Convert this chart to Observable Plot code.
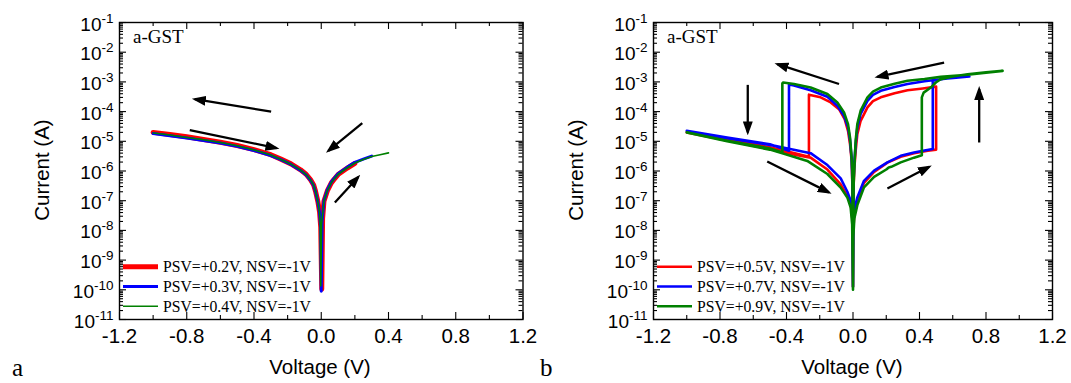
<!DOCTYPE html>
<html><head><meta charset="utf-8">
<script src="https://cdn.jsdelivr.net/npm/d3@7"></script>
<script src="https://cdn.jsdelivr.net/npm/@observablehq/plot@0.6"></script>
<style>
body{margin:0;background:#fff;}
#wrap{position:relative;width:1071px;height:383px;overflow:hidden;background:#fff;}
#wrap > svg{position:absolute;top:0;overflow:visible;}
</style></head><body><div id="wrap"></div>
<script>
// ---------- axis structure ----------
const xTicks = [-1.2, -0.8, -0.4, 0.0, 0.4, 0.8, 1.2];
const xTickLabels = ["-1.2", "-0.8", "-0.4", "0.0", "0.4", "0.8", "1.2"];
const xMinorTicks = [-1.0, -0.6, -0.2, 0.2, 0.6, 1.0];
const yExponents = [-11, -10, -9, -8, -7, -6, -5, -4, -3, -2, -1];
const yTickLabels = ["-11", "-10", "-9", "-8", "-7", "-6", "-5", "-4", "-3", "-2", "-1"];

// ---------- panel a : [voltage (V), log10 current (A)] ----------
const aPSV02 = [[-1.00,-4.70],[-0.90,-4.77],[-0.80,-4.85],[-0.70,-4.94],[-0.60,-5.03],[-0.50,-5.14],[-0.40,-5.28],[-0.30,-5.45],[-0.24,-5.60],[-0.18,-5.76],[-0.123,-5.96],[-0.09,-6.11],[-0.064,-6.29],[-0.045,-6.47],[-0.034,-6.68],[-0.020,-7.03],[-0.010,-7.38],[-0.003,-7.9],[0.003,-9.98],[0.008,-7.6],[0.016,-7.02],[0.036,-6.67],[0.060,-6.40],[0.075,-6.29],[0.100,-6.12],[0.155,-5.90],[0.200,-5.74]];
const aPSV03 = [[-1.00,-4.74],[-0.90,-4.81],[-0.80,-4.89],[-0.70,-4.97],[-0.60,-5.06],[-0.50,-5.17],[-0.40,-5.31],[-0.30,-5.48],[-0.24,-5.62],[-0.18,-5.78],[-0.123,-5.98],[-0.09,-6.13],[-0.064,-6.31],[-0.045,-6.49],[-0.034,-6.70],[-0.020,-7.05],[-0.010,-7.40],[-0.003,-7.95],[0.000,-10.05],[0.005,-7.7],[0.016,-7.0],[0.036,-6.64],[0.060,-6.37],[0.075,-6.26],[0.100,-6.09],[0.155,-5.87],[0.200,-5.71],[0.250,-5.60],[0.300,-5.50]];
const aPSV04 = [[-1.00,-4.72],[-0.90,-4.79],[-0.80,-4.87],[-0.70,-4.95],[-0.60,-5.04],[-0.50,-5.15],[-0.40,-5.29],[-0.30,-5.46],[-0.24,-5.61],[-0.18,-5.77],[-0.123,-5.97],[-0.09,-6.12],[-0.064,-6.30],[-0.045,-6.48],[-0.034,-6.69],[-0.020,-7.04],[-0.010,-7.39],[-0.006,-7.8],[-0.003,-9.87],[0.002,-7.8],[0.016,-7.01],[0.036,-6.66],[0.060,-6.39],[0.075,-6.28],[0.100,-6.11],[0.155,-5.89],[0.200,-5.73],[0.250,-5.61],[0.300,-5.51],[0.350,-5.45],[0.400,-5.39]];
const aArrows = [[-0.298,-4.00,-0.752,-3.58],[-0.782,-4.62,-0.266,-5.23],[0.244,-4.39,0.042,-5.32],[0.081,-7.06,0.220,-6.20]];

// ---------- panel b : full sweep loops [voltage (V), log10 current (A)] ----------
const bPSV05 = [[0,-9.9],[0.002,-8.0],[0.008,-7.4],[0.026,-7.0],[0.066,-6.4],[0.127,-6.03],[0.207,-5.72],[0.287,-5.52],[0.367,-5.40],[0.45,-5.32],[0.50,-5.28],
 [0.50,-3.16],[0.42,-3.22],[0.328,-3.28],[0.25,-3.38],[0.167,-3.52],[0.12,-3.65],[0.087,-3.86],[0.046,-4.31],[0.026,-4.76],[0.016,-5.32],[0.008,-5.9],[0.003,-6.6],
 [0,-9.9],[-0.003,-6.6],[-0.008,-5.66],[-0.018,-5.09],[-0.030,-4.65],[-0.05,-4.25],[-0.084,-3.92],[-0.134,-3.69],[-0.195,-3.52],[-0.265,-3.43],
 [-0.265,-5.52],[-0.35,-5.40],[-0.5,-5.20],[-0.757,-4.93],[-1.0,-4.70],
 [-0.757,-4.97],[-0.5,-5.26],[-0.35,-5.45],[-0.255,-5.55],[-0.154,-5.95],[-0.074,-6.45],[-0.034,-6.85],[-0.014,-7.1],[-0.004,-7.6],[0,-9.9]];
const bPSV07 = [[0,-9.9],[0.002,-7.9],[0.008,-7.3],[0.026,-6.89],[0.066,-6.33],[0.127,-5.99],[0.207,-5.71],[0.287,-5.49],[0.367,-5.38],[0.43,-5.31],[0.48,-5.26],
 [0.48,-2.96],[0.55,-2.89],[0.62,-2.86],[0.70,-2.82],[0.62,-2.85],[0.528,-2.91],[0.43,-2.98],[0.328,-3.07],[0.25,-3.17],[0.167,-3.30],[0.12,-3.44],[0.087,-3.64],[0.046,-4.08],[0.026,-4.54],[0.016,-5.09],[0.008,-5.7],[0.003,-6.4],
 [0,-9.9],[-0.003,-6.5],[-0.008,-5.6],[-0.018,-4.95],[-0.030,-4.53],[-0.054,-4.14],[-0.094,-3.80],[-0.154,-3.50],[-0.255,-3.28],[-0.355,-3.12],[-0.385,-3.09],
 [-0.385,-5.32],[-0.5,-5.10],[-0.757,-4.87],[-1.0,-4.65],
 [-0.757,-4.90],[-0.5,-5.12],[-0.385,-5.25],[-0.255,-5.40],[-0.154,-5.80],[-0.074,-6.25],[-0.034,-6.7],[-0.014,-7.0],[-0.004,-7.5],[0,-9.9]];
const bPSV09 = [[0,-10.0],[0.002,-8.2],[0.008,-7.6],[0.026,-7.15],[0.066,-6.55],[0.127,-6.2],[0.20,-5.95],[0.215,-5.88],[0.23,-5.86],[0.287,-5.71],[0.367,-5.55],[0.414,-5.47],
 [0.414,-3.52],[0.425,-3.36],[0.468,-3.19],[0.498,-3.02],[0.528,-2.91],[0.6,-2.82],[0.689,-2.74],[0.8,-2.68],[0.9,-2.63],
 [0.8,-2.69],[0.689,-2.76],[0.528,-2.83],[0.43,-2.90],[0.328,-2.96],[0.25,-3.06],[0.167,-3.19],[0.12,-3.33],[0.087,-3.52],[0.046,-3.97],[0.026,-4.42],[0.016,-4.98],[0.010,-5.66],[0.004,-6.4],
 [0,-10.0],[-0.004,-5.99],[-0.010,-5.43],[-0.018,-4.87],[-0.030,-4.42],[-0.054,-4.03],[-0.094,-3.69],[-0.154,-3.41],[-0.255,-3.19],[-0.355,-3.07],[-0.42,-3.02],[-0.425,-3.05],
 [-0.425,-5.38],[-0.5,-5.24],[-0.757,-4.98],[-1.0,-4.70],
 [-0.757,-5.0],[-0.5,-5.28],[-0.425,-5.40],[-0.275,-5.66],[-0.154,-6.10],[-0.074,-6.56],[-0.034,-6.89],[-0.014,-7.23],[-0.005,-7.8],[0,-10.0]];
const bArrows = [[-0.084,-3.07,-0.455,-2.40],[0.548,-2.35,0.147,-2.83],[-0.633,-3.10,-0.633,-4.70],[-0.516,-5.68,-0.145,-6.72],[0.207,-6.59,0.458,-5.86],[0.759,-5.04,0.759,-3.24]];

const legendA = ["PSV=+0.2V, NSV=-1V", "PSV=+0.3V, NSV=-1V", "PSV=+0.4V, NSV=-1V"];
const legendB = ["PSV=+0.5V, NSV=-1V", "PSV=+0.7V, NSV=-1V", "PSV=+0.9V, NSV=-1V"];
const colors = ["#ff0000", "#0000ff", "#008000"];

const NS = "http://www.w3.org/2000/svg";
const H = 383, MT = 22, MB = 64;

function panel({series, widths, arrows, width, marginLeft, marginRight, id}) {
  const innerW = width - marginLeft - marginRight, innerH = H - MT - MB;
  const yMajor = yExponents.map(e => Math.pow(10, e));
  const yMinor = [];
  yExponents.slice(0, -1).forEach(e => { for (let m = 2; m <= 9; m++) yMinor.push(m * Math.pow(10, e)); });
  const tk = {stroke: "black", strokeWidth: 1.1};
  const marks = [
    Plot.tickX(xTicks, {x: d => d, insetTop: innerH - 7, ...tk}),
    Plot.tickX(xTicks, {x: d => d, insetBottom: innerH - 7, ...tk}),
    Plot.tickX(xMinorTicks, {x: d => d, insetTop: innerH - 4, ...tk}),
    Plot.tickX(xMinorTicks, {x: d => d, insetBottom: innerH - 4, ...tk}),
    Plot.tickY(yMajor, {y: d => d, insetRight: innerW - 7, ...tk}),
    Plot.tickY(yMajor, {y: d => d, insetLeft: innerW - 7, ...tk}),
    Plot.tickY(yMinor, {y: d => d, insetRight: innerW - 4, ...tk}),
    Plot.tickY(yMinor, {y: d => d, insetLeft: innerW - 4, ...tk}),
    ...series.map((s, i) => Plot.line(s, {x: d => d[0], y: d => Math.pow(10, d[1]), stroke: colors[i], strokeWidth: widths[i], strokeLinejoin: "round"})),
    Plot.link(arrows, {x1: d => d[0], y1: d => Math.pow(10, d[1]), x2: d => d[2], y2: d => Math.pow(10, d[3]), stroke: "black", strokeWidth: 2.3}),
    Plot.frame({stroke: "black", strokeWidth: 1.4}),
    Plot.axisX(xTicks, {tickSize: 0, tickPadding: 9, tickFormat: d => xTickLabels[xTicks.indexOf(d)], fontSize: 20.5, label: null}),
    Plot.axisY(yMajor, {tickSize: 0, tickPadding: 6, dy: 2, tickFormat: d => "10^" + yTickLabels[yMajor.indexOf(d)], fontSize: 19, label: null})
  ];
  const svg = Plot.plot({
    width, height: H, marginLeft, marginRight, marginTop: MT, marginBottom: MB,
    x: {domain: [-1.2, 1.2], label: null},
    y: {type: "log", domain: [1e-11, 1e-1], label: null},
    style: {fontFamily: "'Liberation Sans', Arial, sans-serif", color: "black", background: "transparent", overflow: "visible"},
    marks
  });
  // superscript exponents
  svg.querySelectorAll('g[aria-label="y-axis tick label"] text').forEach(t => {
    const s = t.textContent; const k = s.indexOf("^");
    if (k < 0) return;
    t.textContent = s.slice(0, k);
    const ts = document.createElementNS(NS, "tspan");
    ts.setAttribute("dy", "-8"); ts.setAttribute("font-size", "13.5"); ts.textContent = s.slice(k + 1);
    t.appendChild(ts);
  });
  // arrow heads
  const defs = document.createElementNS(NS, "defs");
  defs.innerHTML = `<marker id="${id}" viewBox="0 0 14 10" refX="11" refY="5" markerUnits="userSpaceOnUse" markerWidth="14" markerHeight="10" orient="auto"><path d="M0,0L14,5L0,10Z" fill="black"/></marker>`;
  svg.insertBefore(defs, svg.firstChild);
  svg.querySelectorAll('g[aria-label="link"] path').forEach(p => p.setAttribute("marker-end", `url(#${id})`));
  return svg;
}

const wrap = document.getElementById("wrap");
const svgA = panel({series: [aPSV02, aPSV03, aPSV04], widths: [5, 3, 1.6], arrows: aArrows, width: 530, marginLeft: 119, marginRight: 7.5, id: "ahA"});
svgA.style.left = "0px";
wrap.appendChild(svgA);
const svgB = panel({series: [bPSV05, bPSV07, bPSV09], widths: [2.6, 2.6, 2.6], arrows: bArrows, width: 541, marginLeft: 123, marginRight: 19, id: "ahB"});
svgB.style.left = "530px";
wrap.appendChild(svgB);

// ---------- titles, panel letters, legends ----------
const ov = document.createElementNS(NS, "svg");
ov.setAttribute("width", 1071); ov.setAttribute("height", 383);
ov.style.left = "0px"; ov.style.pointerEvents = "none";
let html = "";
const sans = "font-family=\"'Liberation Sans', Arial, sans-serif\"";
const serif = "font-family=\"'Liberation Serif', 'Times New Roman', serif\"";
[[0, 119, 320, legendA, [5, 3, 1.6], "a", 12], [530, 653, 852, legendB, [2.6, 2.6, 2.6], "b", 540]].forEach(([off, ax, cx, leg, lw, letter, lx]) => {
  html += `<text ${sans} font-size="20.5" text-anchor="middle" transform="translate(${ax - 70},170) rotate(-90)">Current (A)</text>`;
  html += `<text ${sans} font-size="20.5" text-anchor="middle" x="${cx}" y="374">Voltage (V)</text>`;
  html += `<text ${serif} font-size="25" x="${lx}" y="376">${letter}</text>`;
  html += `<text ${serif} font-size="19" x="${ax + 14}" y="43">a-GST</text>`;
  const rows = [266.8, 286.5, 306.2];
  leg.forEach((t, i) => {
    html += `<line x1="${ax + 4}" x2="${ax + 39}" y1="${rows[i]}" y2="${rows[i]}" stroke="${colors[i]}" stroke-width="${lw[i]}"/>`;
    html += `<text ${serif} font-size="15.7" x="${ax + 44}" y="${rows[i] + 5.5}">${t}</text>`;
  });
});
ov.innerHTML = html;
wrap.appendChild(ov);
</script></body></html>
